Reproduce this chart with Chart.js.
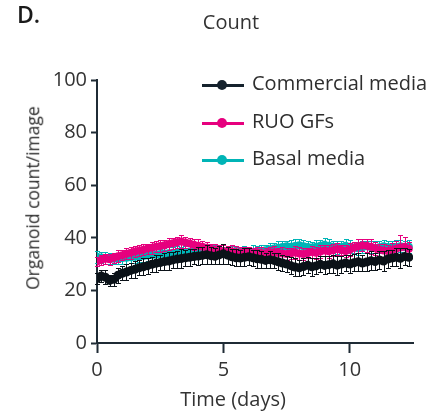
<!DOCTYPE html>
<html><head><meta charset="utf-8">
<script src="https://cdn.jsdelivr.net/npm/chart.js@4.4.0/dist/chart.umd.min.js"></script>
<style>
html,body{margin:0;padding:0;background:#fff;}
#wrap{position:relative;width:448px;height:413px;overflow:hidden;font-family:"Open Sans",sans-serif;color:#333;}
#wrap canvas{position:absolute;left:0;top:0;}
.t{position:absolute;white-space:nowrap;line-height:1;}
#panel{left:17px;top:3px;font-size:23px;font-weight:600;color:#1a1a1a;}
#title{left:231px;top:22px;font-size:20px;transform:translate(-50%,-50%);}
#xtitle{left:233px;top:399px;font-size:20px;transform:translate(-50%,-50%);}
#ytitle{left:33px;top:198px;font-size:17.5px;color:#2e2e2e;transform:translate(-50%,-50%) rotate(-90deg);}
.lg{position:absolute;left:202px;height:20px;}
.lg .ln{position:absolute;left:0;top:9px;width:42px;height:2.5px;}
.lg .dot{position:absolute;left:15px;top:5px;width:10px;height:10px;border-radius:50%;}
.lg .tx{position:absolute;left:50px;top:-2px;font-size:20px;line-height:1;white-space:nowrap;color:#2e2e2e;}
</style></head><body>
<div id="wrap">
  <canvas id="c" width="448" height="413"></canvas>
  <div class="t" id="panel">D.</div>
  <div class="t" id="title">Count</div>
  <div class="t" id="xtitle">Time (days)</div>
  <div class="t" id="ytitle">Organoid count/image</div>
  <div id="legend"></div>
</div>
<script>
// Sampling times (hours)
const hours = [0,4,8,12,16,20,24,28,32,36,40,44,48,52,56,60,64,68,72,76,80,84,88,92,96,100,104,108,112,116,120,124,128,132,136,140,144,148,152,156,160,164,168,172,176,180,184,188,192,196,200,204,208,212,216,220,224,228,232,236,240,244,248,252,256,260,264,268,272,276,280,284,288,292,296];

const seriesNames = ['Commercial media','RUO GFs','Basal media'];

const commercial = [24.5,25.5,25.0,23.8,24.2,25.8,26.5,27.0,27.6,28.0,28.6,29.0,29.4,29.9,30.3,30.6,31.0,31.2,31.6,31.9,32.1,32.4,32.6,32.9,33.1,33.3,33.6,33.2,33.0,33.5,33.9,33.4,32.8,32.4,32.3,32.6,32.8,32.4,32.0,31.8,31.4,31.7,31.4,30.9,30.4,30.0,29.4,28.9,28.6,29.1,29.6,29.0,29.3,29.9,29.5,29.8,30.1,29.6,30.0,30.4,30.0,30.5,30.9,30.4,30.8,31.3,31.0,31.6,31.2,31.9,32.3,32.6,32.2,32.9,32.6];
const commercialErr = [2.0,2.4,2.6,2.2,2.5,2.8,2.6,3.0,2.7,3.1,2.8,3.2,3.0,2.9,3.3,3.0,3.1,3.4,3.0,3.2,3.5,3.1,3.3,3.0,3.4,3.2,3.6,3.3,3.0,3.4,3.8,3.2,3.0,3.3,3.1,3.4,3.2,3.0,3.3,3.1,2.9,3.2,3.0,3.3,3.1,2.9,3.2,3.4,3.0,3.3,3.1,3.5,3.2,3.0,3.4,3.1,3.3,3.6,3.2,3.0,3.4,3.2,3.5,3.1,3.3,3.6,3.2,3.4,3.7,3.3,3.1,3.5,3.8,3.4,3.2];

const ruo = [31.0,31.6,32.0,31.8,32.4,33.0,33.4,33.9,34.3,34.8,35.2,35.5,35.9,36.2,36.6,36.9,37.2,37.6,37.9,38.3,38.6,38.2,37.8,37.4,37.0,36.6,36.2,35.8,35.5,35.2,35.0,34.8,34.9,34.6,34.4,34.6,34.3,34.1,34.4,34.2,34.0,34.3,34.5,34.2,34.0,33.8,34.1,34.4,34.0,33.8,34.2,34.6,34.3,34.8,35.2,34.9,35.3,35.7,35.4,35.0,35.5,36.2,36.8,37.2,37.0,36.6,36.0,35.5,35.2,35.0,35.4,35.8,36.3,36.6,35.8];
const ruoErr = [1.8,2.0,1.9,2.1,2.0,2.2,1.9,2.1,2.3,2.0,2.2,2.1,1.9,2.2,2.0,2.3,2.1,2.4,2.2,2.0,2.3,2.1,2.2,2.0,2.4,2.1,2.3,2.0,2.2,2.1,2.3,2.0,2.2,2.4,2.1,2.0,2.3,2.2,2.0,2.4,2.1,2.3,2.2,2.0,2.4,2.2,2.1,2.3,2.5,2.2,2.0,2.4,2.2,2.3,2.1,2.5,2.2,2.4,2.0,2.3,2.5,2.2,2.6,2.3,2.4,2.8,2.5,2.3,2.6,2.4,2.7,3.0,4.6,3.8,2.6];

const basal = [32.8,32.5,32.2,32.0,32.0,32.1,32.3,32.4,32.6,32.8,33.0,33.1,33.3,33.5,33.6,33.8,34.0,34.1,34.3,34.4,34.5,34.6,34.7,34.8,34.9,35.0,35.1,35.0,34.8,34.9,35.0,34.7,34.4,34.2,34.3,34.5,34.4,34.6,34.8,35.0,35.3,35.6,35.9,36.2,36.5,36.8,36.6,36.9,37.2,36.8,36.5,36.3,36.6,37.0,37.4,37.0,36.6,36.2,36.5,37.0,36.6,36.3,36.0,36.4,36.8,36.5,36.1,36.4,36.8,36.5,36.2,36.5,36.8,36.4,36.6];
const basalErr = [2.2,2.0,2.3,2.1,2.0,2.2,2.1,2.3,2.0,2.2,2.1,2.4,2.2,2.0,2.3,2.1,2.2,2.4,2.1,2.3,2.0,2.2,2.4,2.1,2.3,2.2,2.0,2.4,2.6,2.2,2.3,2.1,2.4,2.2,2.0,2.3,2.1,2.5,2.2,2.4,2.1,2.3,2.2,2.5,2.3,2.1,2.4,2.6,2.2,2.4,2.3,2.1,2.5,2.3,2.7,2.4,2.2,2.5,2.3,2.6,2.4,2.2,2.5,2.3,2.1,2.4,2.6,2.3,2.5,2.2,2.4,2.6,2.3,2.5,2.4];

const xTickStep = 5, xMax = 12.5;
const yTickStep = 20, yMin = 0, yMax = 100;

const colors = ['#0b1218','#e6007e','#00b4b6'];
const legendColors = ['#15222d','#e6007e','#00b4b6'];
const radii = [4.5, 4, 4];
const axisColor = '#1f2b35';
const font = '"Open Sans", sans-serif';

const values = [commercial, ruo, basal];
const errs = [commercialErr, ruoErr, basalErr];

const errorBars = {
  id: 'errorBars',
  beforeDatasetDraw(chart, args) {
    const ds = chart.data.datasets[args.index];
    if (!ds.err) return;
    const ys = chart.scales.y, ctx = chart.ctx;
    ctx.save();
    ctx.strokeStyle = ds.pointBackgroundColor;
    ctx.lineWidth = 1;
    ctx.beginPath();
    args.meta.data.forEach((pt, i) => {
      const v = ds.data[i].y, e = ds.err[i] || 0;
      const x = Math.round(pt.x) + 0.5;
      const yt = Math.round(ys.getPixelForValue(v + e)) + 0.5;
      const yb = Math.round(ys.getPixelForValue(v - e)) + 0.5;
      ctx.moveTo(x, yt); ctx.lineTo(x, yb);
      ctx.moveTo(x - 2.5, yt); ctx.lineTo(x + 2.5, yt);
      ctx.moveTo(x - 2.5, yb); ctx.lineTo(x + 2.5, yb);
    });
    ctx.stroke();
    ctx.restore();
  }
};

const datasets = seriesNames.map((name, k) => ({
  label: name,
  data: hours.map((h, i) => ({x: h / 24, y: values[k][i]})),
  err: errs[k],
  borderColor: colors[k],
  backgroundColor: colors[k],
  pointBackgroundColor: colors[k],
  pointBorderColor: colors[k],
  pointBorderWidth: 0,
  pointRadius: radii[k],
  borderWidth: 1.5,
  tension: 0
}));

new Chart(document.getElementById('c'), {
  type: 'line',
  data: {datasets},
  plugins: [errorBars],
  options: {
    responsive: false,
    animation: false,
    devicePixelRatio: 1,
    layout: {padding: {top: 80, right: 35, left: 0, bottom: 0}},
    plugins: {legend: {display: false}, tooltip: {enabled: false}, title: {display: false}},
    scales: {
      x: {
        type: 'linear', min: 0, max: xMax,
        ticks: {stepSize: xTickStep, includeBounds: false, font: {family: font, size: 20}, color: '#333', padding: 5, maxRotation: 0},
        grid: {drawOnChartArea: false, tickLength: 10, tickColor: axisColor, tickWidth: 2},
        border: {color: axisColor, width: 2},
        afterFit(s) { s.height = 70; }
      },
      y: {
        min: yMin, max: yMax,
        ticks: {stepSize: yTickStep, font: {family: font, size: 20}, color: '#333', padding: 4},
        grid: {drawOnChartArea: false, tickLength: 6, tickColor: axisColor, tickWidth: 2},
        border: {color: axisColor, width: 2},
        afterFit(s) { s.width = 97; }
      }
    }
  }
});

// Legend (HTML text)
const legendTops = [75, 113, 150];
const lg = document.getElementById('legend');
seriesNames.forEach((name, k) => {
  const row = document.createElement('div');
  row.className = 'lg';
  row.style.top = legendTops[k] + 'px';
  row.innerHTML = '<div class="ln" style="background:' + legendColors[k] + '"></div>' +
    '<div class="dot" style="background:' + legendColors[k] + '"></div>' +
    '<div class="tx">' + name + '</div>';
  lg.appendChild(row);
});
</script>
</body></html>
